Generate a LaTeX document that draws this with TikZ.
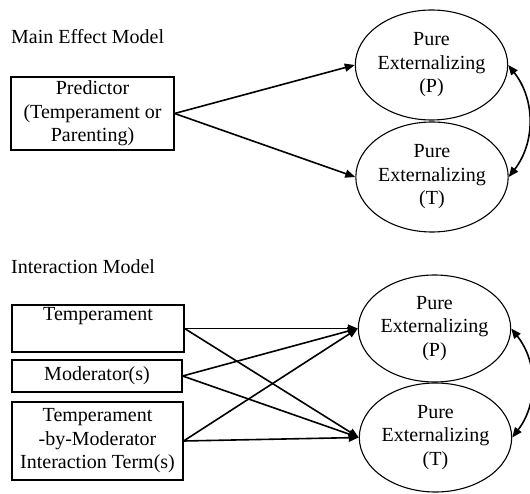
\documentclass[tikz,border=0pt]{standalone}
\usepackage{fontspec}
\setmainfont{Liberation Serif}
\usetikzlibrary{arrows.meta,shapes.geometric}
\begin{document}
\begin{tikzpicture}[x=1pt,y=-1pt,
  every node/.style={font=\fontsize{20}{23.5}\selectfont, inner sep=0pt},
  box/.style={draw, line width=1.2pt, align=center},
  ell/.style={draw, ellipse, line width=1.1pt, align=center},
  arr/.style={line width=1.6pt, -{Triangle[length=10pt,width=8pt]}},
  dbl/.style={line width=1.6pt, {Triangle[length=10pt,width=8pt]}-{Triangle[length=10pt,width=8pt]}},
  ttl/.style={anchor=west}]
\useasboundingbox (0,0) rectangle (530,494);
% Main effect model
\node[ttl] (t1) at (11,37) {Main Effect Model};
\node[box, minimum width=163pt, minimum height=73pt] (pred) at (92.5,113.5) {Predictor\\(Temperament or\\Parenting)};
\node[ell, minimum width=142pt, minimum height=110pt] (P1) at (431.5,65) {Pure\\Externalizing\\(P)};
\node[ell, minimum width=142pt, minimum height=110pt] (T1) at (432,177) {Pure\\Externalizing\\(T)};
\draw[arr] (pred.east) -- (P1.west);
\draw[arr] (pred.east) -- (T1.west);
\draw[dbl] (P1.east) to[bend left=38] (T1.east);
% Interaction model
\node[ttl] (t2) at (11,267) {Interaction Model};
\node[box, minimum width=172pt, minimum height=47pt] (temp) at (98,328.5) {};
\node (templ) at (98,316) {Temperament};
\node[box, minimum width=170pt, minimum height=32pt] (mod) at (97,376) {Moderator(s)};
\node[box, minimum width=171pt, minimum height=78pt] (inter) at (97.5,441) {Temperament\\-by-Moderator\\Interaction Term(s)};
\node[ell, minimum width=137pt, minimum height=107pt] (P2) at (434.5,328.5) {Pure\\Externalizing\\(P)};
\node[ell, minimum width=138pt, minimum height=109pt] (T2) at (435.5,437.5) {Pure\\Externalizing\\(T)};
\draw[arr] (temp.east) -- (P2.west);
\draw[arr] (temp.east) -- (T2.west);
\draw[arr] (mod.east) -- (P2.west);
\draw[arr] (mod.east) -- (T2.west);
\draw[arr] (inter.east) -- (P2.west);
\draw[arr] (inter.east) -- (T2.west);
\draw[dbl] (P2.east) to[bend left=38] (T2.east);
\end{tikzpicture}
\end{document}
